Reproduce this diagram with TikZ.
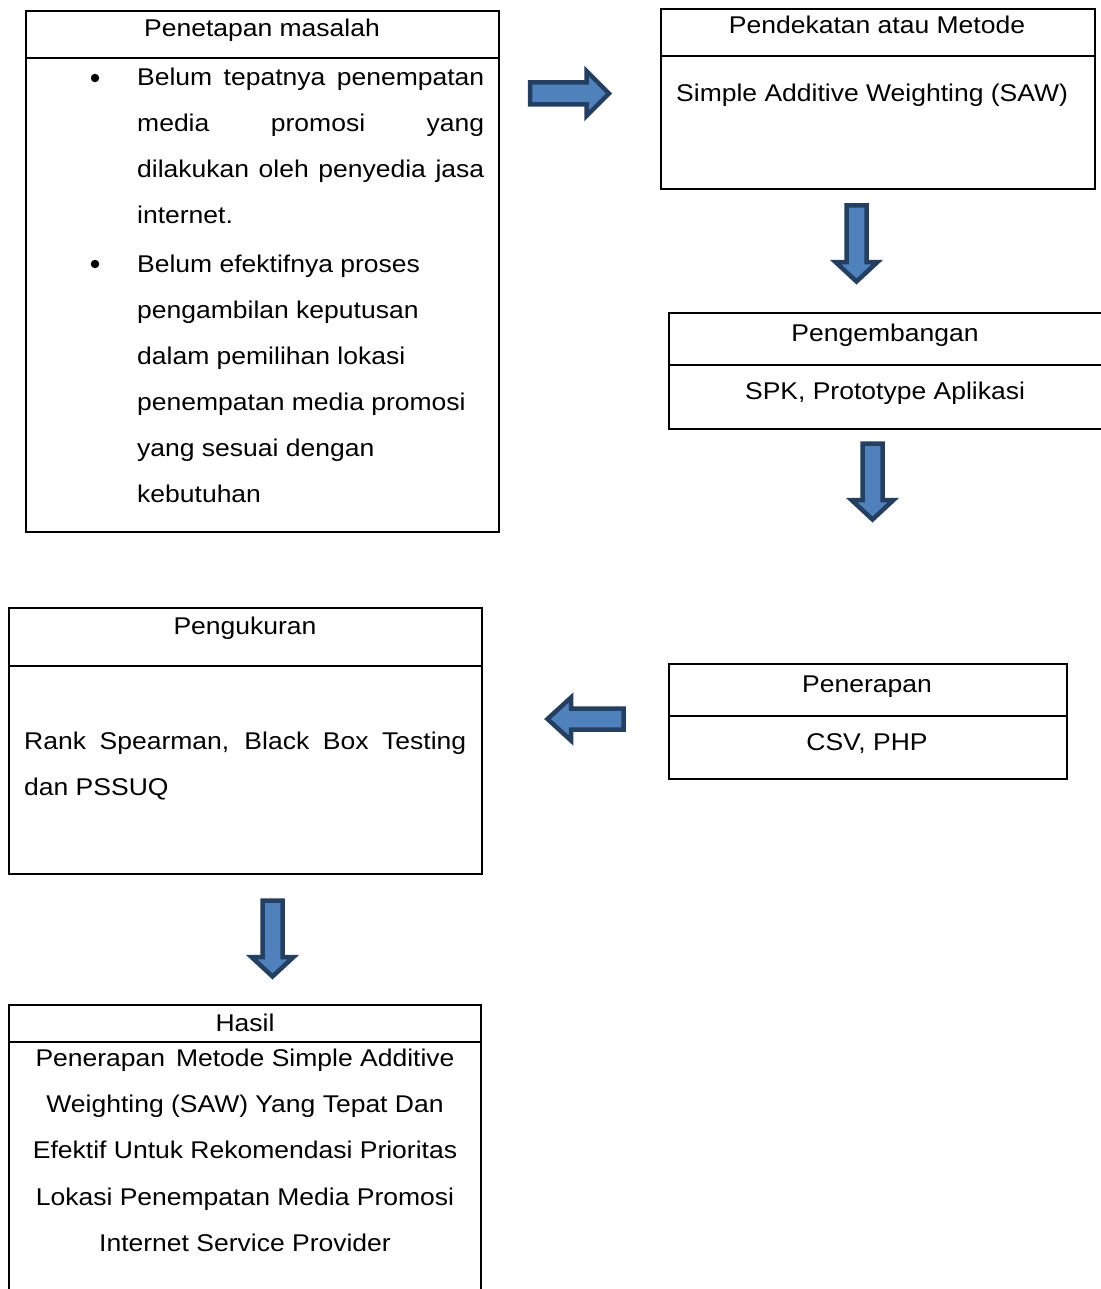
\documentclass[tikz,border=0pt]{standalone}
\usepackage{fontspec}
\setmainfont{Liberation Sans}[FakeStretch=1.095]
\newcommand\txtfont{\fontsize{24.2}{29}\selectfont}
\definecolor{arrfill}{HTML}{4F81BD}
\definecolor{arrdraw}{HTML}{243F60}
\tikzset{
  boxline/.style={draw=black, line width=2pt},
  txt/.style={inner sep=0pt, font=\txtfont, anchor=base},
  txtl/.style={inner sep=0pt, font=\txtfont, anchor=base west},
  bulletdot/.style={circle, fill=black, inner sep=0pt, minimum size=8.5pt},
  blockarrow/.style={fill=arrfill, draw=arrdraw, line width=4.5pt, line join=miter, miter limit=10},
}
\newcommand\jline[2]{\makebox[#1][s]{#2}}
\begin{document}
\begin{tikzpicture}[x=1pt,y=-1pt]
\useasboundingbox (0,0) rectangle (1100,1289);
% ---------- Box 1: Penetapan masalah
\draw[boxline] (26,11) rectangle (499,532);
\draw[boxline] (26,58) -- (499,58);
\node[txt] (t1) at (262,37) {Penetapan masalah};
\node[bulletdot] (bul1) at (95,78) {};
\node[txtl] (p1a) at (137,86) {\jline{347pt}{Belum tepatnya penempatan}};
\node[txtl] (p1b) at (137,132) {\jline{347pt}{media promosi yang}};
\node[txtl] (p1c) at (137,178) {\jline{347pt}{dilakukan oleh penyedia jasa}};
\node[txtl] (p1d) at (137,224) {internet.};
\node[bulletdot] (bul2) at (95,264) {};
\node[txtl] (p2a) at (137,272) {Belum efektifnya proses};
\node[txtl] (p2b) at (137,318) {pengambilan keputusan};
\node[txtl] (p2c) at (137,364) {dalam pemilihan lokasi};
\node[txtl] (p2d) at (137,410) {penempatan media promosi};
\node[txtl] (p2e) at (137,456) {yang sesuai dengan};
\node[txtl] (p2f) at (137,502) {kebutuhan};
% ---------- Box 2: Pendekatan atau Metode
\draw[boxline] (661,9) rectangle (1095,189);
\draw[boxline] (661,56) -- (1095,56);
\node[txt] (t2) at (877,34) {Pendekatan atau Metode};
\node[txtl] (c2) at (676,102) {Simple Additive Weighting (SAW)};
% ---------- Box 3: Pengembangan
\draw[boxline] (1102,313) -- (669,313) -- (669,429) -- (1102,429);
\draw[boxline] (669,365) -- (1102,365);
\node[txt] (t3) at (885,341) {Pengembangan};
\node[txt] (c3) at (885,399) {SPK, Prototype Aplikasi};
% ---------- Box 4: Pengukuran
\draw[boxline] (9,608) rectangle (482,874);
\draw[boxline] (9,666) -- (482,666);
\node[txt] (t4) at (245,634) {Pengukuran};
\node[txtl] (c4a) at (24,749) {\jline{442pt}{Rank Spearman, Black Box Testing}};
\node[txtl] (c4b) at (24,795) {dan PSSUQ};
% ---------- Box 5: Penerapan
\draw[boxline] (669,664) rectangle (1067,779);
\draw[boxline] (669,716) -- (1067,716);
\node[txt] (t5) at (867,692) {Penerapan};
\node[txt] (c5) at (867,750) {CSV, PHP};
% ---------- Box 6: Hasil
\draw[boxline] (9,1300) -- (9,1005) -- (481,1005) -- (481,1300);
\draw[boxline] (9,1042) -- (481,1042);
\node[txt] (t6) at (245,1031) {Hasil};
\node[txt] (c6a) at (245,1066) {Penerapan\hspace{0.45em}Metode Simple Additive};
\node[txt] (c6b) at (245,1112) {Weighting (SAW) Yang Tepat Dan};
\node[txt] (c6c) at (245,1158) {Efektif Untuk Rekomendasi Prioritas};
\node[txt] (c6d) at (245,1205) {Lokasi Penempatan Media Promosi};
\node[txt] (c6e) at (245,1251) {Internet Service Provider};
% ---------- Block arrows
% right arrow
\draw[blockarrow] (530,82.5) -- (586.5,82.5) -- (586.5,71) -- (609,93.5) -- (586.5,116) -- (586.5,104.5) -- (530,104.5) -- cycle;
% down arrow 1
\draw[blockarrow] (846.5,205.5) -- (866.5,205.5) -- (866.5,262) -- (877.5,262) -- (856.5,281.5) -- (835.5,262) -- (846.5,262) -- cycle;
% down arrow 2
\draw[blockarrow] (862.5,443.5) -- (882.5,443.5) -- (882.5,500) -- (893.5,500) -- (872.5,519.5) -- (851.5,500) -- (862.5,500) -- cycle;
% left arrow
\draw[blockarrow] (623.5,708.5) -- (571,708.5) -- (571,697.5) -- (547.5,719) -- (571,740.5) -- (571,729.5) -- (623.5,729.5) -- cycle;
% down arrow 3
\draw[blockarrow] (262.5,900.5) -- (282.5,900.5) -- (282.5,957) -- (293.5,957) -- (272.5,976.5) -- (251.5,957) -- (262.5,957) -- cycle;
\end{tikzpicture}
\end{document}
